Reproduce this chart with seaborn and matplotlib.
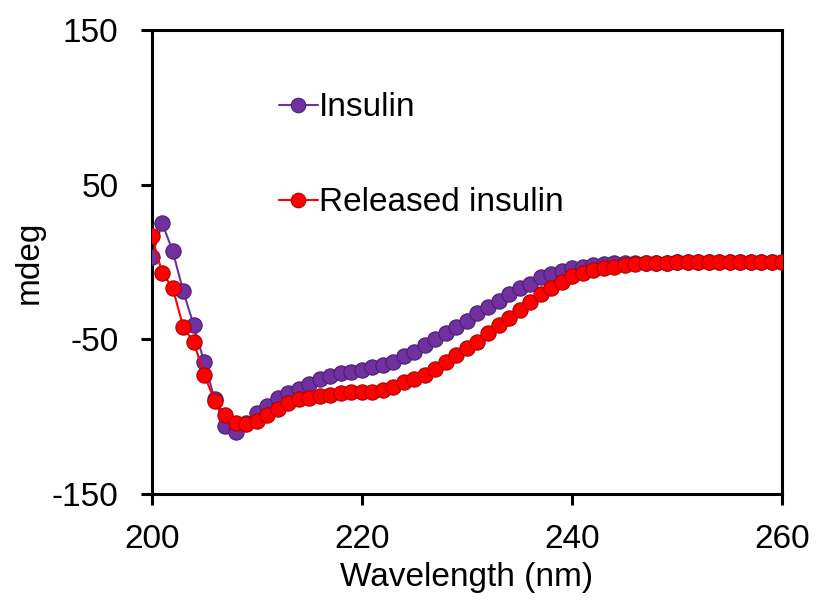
import numpy as np
import pandas as pd
import seaborn as sns
import matplotlib.pyplot as plt

wavelength = list(range(200, 261))

insulin = [3, 25, 7, -19, -41, -65, -89, -106, -110, -104,
           -98, -93, -88, -85, -82, -79, -76, -74, -72, -71,
           -70, -68, -67, -65, -61, -58, -54, -50, -46, -42,
           -38, -33, -29, -25, -21, -17, -14, -10, -8, -6,
           -4, -3, -2, -1.5, -1, -1, -0.8, -0.6, -0.5, -0.4,
           -0.3, -0.2, -0.1, 0, 0, 0, 0, 0, 0, 0, 0]

released = [17, -7, -17, -42, -52, -73, -90, -99, -104, -105,
            -103, -99, -95, -91, -89, -88, -87, -86, -85, -84,
            -84, -84, -83, -81, -78, -76, -73, -69, -65, -60,
            -56, -52, -46, -41, -36, -31, -26, -21, -17, -13,
            -9, -7, -5, -4, -3, -2, -1.5, -1, -0.8, -0.5,
            -0.3, -0.2, -0.1, 0, 0, 0, 0, 0, 0, 0, 0]

series_names = ["Insulin", "Released insulin"]
colors = {"Insulin": "#7030A0", "Released insulin": "#FF0000"}
edges = {"Insulin": "#4B1F6E", "Released insulin": "#B00000"}

df = pd.DataFrame({
    "wavelength": wavelength * 2,
    "mdeg": insulin + released,
    "sample": [series_names[0]] * len(wavelength) + [series_names[1]] * len(wavelength),
})

sns.set_style("ticks")
plt.rcParams['font.family'] = ['Liberation Sans', 'DejaVu Sans']
plt.rcParams['axes.unicode_minus'] = False
plt.rcParams['text.color'] = 'black'
plt.rcParams['axes.labelcolor'] = 'black'
plt.rcParams['xtick.color'] = 'black'
plt.rcParams['ytick.color'] = 'black'

fig = plt.figure(figsize=(8.2, 6), dpi=100)
ax = fig.add_axes([0.185, 0.177, 0.769, 0.773])

for name in series_names:
    sub = df[df["sample"] == name]
    sns.lineplot(data=sub, x="wavelength", y="mdeg", ax=ax, color=colors[name],
                 marker="o", markersize=11, markeredgecolor=edges[name],
                 markeredgewidth=0.8, linewidth=1.5, label=name, zorder=3)

ax.set_xlim(200, 260)
ax.set_ylim(-150, 150)
ax.set_xticks([200, 220, 240, 260])
ax.set_yticks([150, 50, -50, -150])
ax.set_xlabel("Wavelength (nm)", fontsize=24, labelpad=5)
ax.set_ylabel("mdeg", fontsize=24, labelpad=5)
ax.tick_params(axis="both", labelsize=24, width=2.2, length=8, direction="out")
ax.tick_params(axis="x", pad=14)
ax.tick_params(axis="y", pad=16)
for sp in ax.spines.values():
    sp.set_linewidth(2.2)
    sp.set_color("black")
    sp.set_visible(True)

leg = ax.legend(loc="upper left", bbox_to_anchor=(0.181, 0.894), frameon=False,
                fontsize=24, handlelength=1.15, handletextpad=0.05,
                labelspacing=1.92, borderaxespad=0, markerscale=0.95)

fig.savefig("out.png", dpi=100)
